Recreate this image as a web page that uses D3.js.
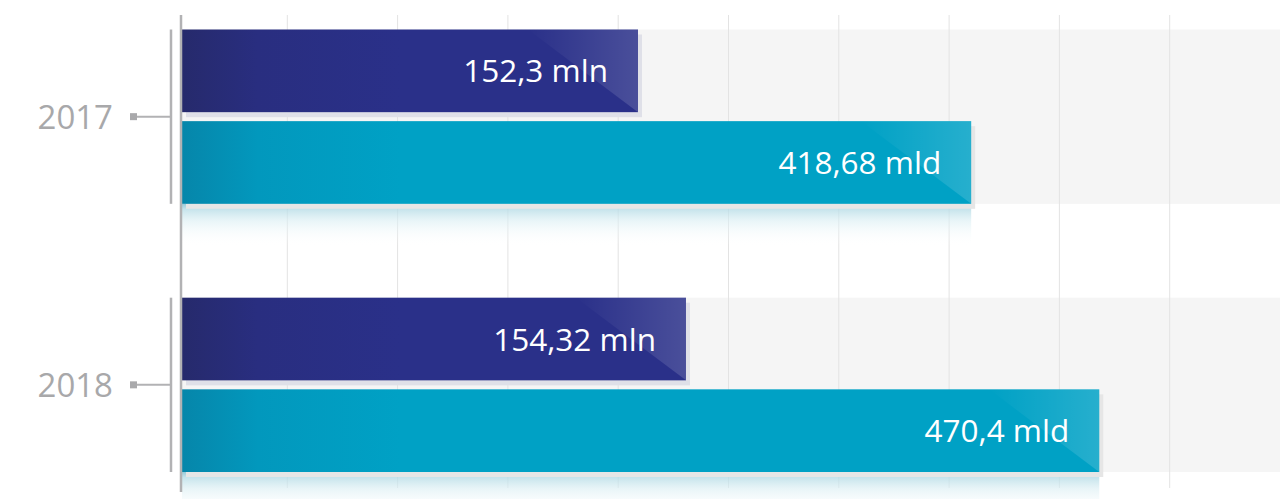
<!DOCTYPE html>
<html>
<head>
<meta charset="utf-8">
<script src="https://cdn.jsdelivr.net/npm/d3@7"></script>
<style>
  html, body { margin: 0; padding: 0; background: #fff; }
  svg { display: block; font-family: "Open Sans", "Noto Sans", sans-serif; }
</style>
</head>
<body>
<script>
// data
var years = ["2017", "2018"];
var series = ["mln", "mld"];
var mlnValues = [152.3, 154.32];
var mldValues = [418.68, 470.4];
var mlnLabels = ["152,3 mln", "154,32 mln"];
var mldLabels = ["418,68 mld", "470,4 mld"];

var width = 1280, height = 499;

var svg = d3.select("body").append("svg")
  .attr("width", width)
  .attr("height", height);

var defs = svg.append("defs");

// scales
var y = d3.scaleBand().domain(years).range([29.5, 472]).paddingInner(0.35);
var ySub = d3.scaleBand().domain(series).range([0, y.bandwidth()]).paddingInner(0.098);

// each series has its own unit, so its own scale
var xMln = d3.scaleLinear().domain([133.1, 179.5]).range([182, 1284]);
var xMld = d3.scaleLinear().domain([100, 545]).range([182, 1284]);
var xGrid = d3.scaleLinear().domain([0, 10]).range([177, 1280]);

// gradients
function leftGrad(id, dark, mid, main) {
  var g = defs.append("linearGradient").attr("id", id)
    .attr("gradientUnits", "userSpaceOnUse")
    .attr("x1", 182).attr("x2", 400).attr("y1", 0).attr("y2", 0);
  g.append("stop").attr("offset", 0).attr("stop-color", dark);
  g.append("stop").attr("offset", 0.35).attr("stop-color", mid);
  g.append("stop").attr("offset", 1).attr("stop-color", main);
}
leftGrad("gMln", "#262a6c", "#292e80", "#2a3089");
leftGrad("gMld", "#0686aa", "#0298bd", "#00a1c5");

var gloss = defs.append("linearGradient").attr("id", "gloss")
  .attr("x1", 0).attr("x2", 1).attr("y1", 0).attr("y2", 0);
gloss.append("stop").attr("offset", 0).attr("stop-color", "#fff").attr("stop-opacity", 0);
gloss.append("stop").attr("offset", 1).attr("stop-color", "#fff").attr("stop-opacity", 0.15);

var refl = defs.append("linearGradient").attr("id", "refl")
  .attr("x1", 0).attr("x2", 0).attr("y1", 0).attr("y2", 1);
refl.append("stop").attr("offset", 0).attr("stop-color", "#8cc3d3").attr("stop-opacity", 0.9);
refl.append("stop").attr("offset", 0.13).attr("stop-color", "#b8dde7").attr("stop-opacity", 0.8);
refl.append("stop").attr("offset", 0.4).attr("stop-color", "#d9eef3").attr("stop-opacity", 0.6);
refl.append("stop").attr("offset", 1).attr("stop-color", "#fff").attr("stop-opacity", 0);

// background bands
svg.append("g").selectAll("rect")
  .data(years)
  .enter().append("rect")
  .attr("x", 182)
  .attr("y", function(d) { return y(d); })
  .attr("width", width - 182)
  .attr("height", y.bandwidth())
  .attr("fill", "#f5f5f5");

// gridlines
svg.append("g").selectAll("line")
  .data(d3.range(1, 10))
  .enter().append("line")
  .attr("x1", function(d) { return xGrid(d); })
  .attr("x2", function(d) { return xGrid(d); })
  .attr("y1", 15)
  .attr("y2", 488)
  .attr("stroke", "#e3e3e3")
  .attr("stroke-width", 1);

// bars
var bars = [];
years.forEach(function(yr, i) {
  bars.push({ year: yr, key: "mln", end: xMln(mlnValues[i]), label: mlnLabels[i], fill: "url(#gMln)" });
  bars.push({ year: yr, key: "mld", end: xMld(mldValues[i]), label: mldLabels[i], fill: "url(#gMld)" });
});

var barG = svg.append("g").selectAll("g")
  .data(bars)
  .enter().append("g")
  .attr("transform", function(d) { return "translate(0," + (y(d.year) + ySub(d.key)) + ")"; });

var h = ySub.bandwidth();

// reflection under the teal bars
barG.filter(function(d) { return d.key == "mld"; })
  .append("rect")
  .attr("x", 182)
  .attr("y", h)
  .attr("width", function(d) { return d.end - 182; })
  .attr("height", 42)
  .attr("fill", "url(#refl)");

// shadow
barG.append("rect")
  .attr("x", 186)
  .attr("y", 5)
  .attr("width", function(d) { return d.end - 182; })
  .attr("height", h)
  .attr("fill", function(d) { return d.key == "mln" ? "#dfe0e8" : "#e6e6e6"; });

barG.append("rect")
  .attr("x", 182)
  .attr("y", 0)
  .attr("width", function(d) { return d.end - 182; })
  .attr("height", h)
  .attr("fill", function(d) { return d.fill; });

// glossy top-right corner
barG.append("polygon")
  .attr("points", function(d) {
    return [[d.end - 110, 0], [d.end, 0], [d.end, h]].join(" ");
  })
  .attr("fill", "url(#gloss)");

barG.append("text")
  .attr("x", function(d) { return d.end - 30; })
  .attr("y", h / 2)
  .attr("dy", "0.37em")
  .attr("text-anchor", "end")
  .attr("fill", "#fff")
  .attr("font-size", 31.5)
  .text(function(d) { return d.label; });

// axis
svg.append("line")
  .attr("x1", 181).attr("x2", 181)
  .attr("y1", 15).attr("y2", 492)
  .attr("stroke", "#b2b2b4")
  .attr("stroke-width", 2.5);

var yAxis = svg.append("g").selectAll("g")
  .data(years)
  .enter().append("g");

yAxis.append("line")
  .attr("x1", 171).attr("x2", 171)
  .attr("y1", function(d) { return y(d); })
  .attr("y2", function(d) { return y(d) + y.bandwidth(); })
  .attr("stroke", "#b2b2b4")
  .attr("stroke-width", 2.5);

yAxis.append("line")
  .attr("x1", 136).attr("x2", 171)
  .attr("y1", function(d) { return y(d) + y.bandwidth() / 2; })
  .attr("y2", function(d) { return y(d) + y.bandwidth() / 2; })
  .attr("stroke", "#b2b2b4")
  .attr("stroke-width", 2);

yAxis.append("rect")
  .attr("x", 130)
  .attr("y", function(d) { return y(d) + y.bandwidth() / 2 - 3.5; })
  .attr("width", 7).attr("height", 7)
  .attr("fill", "#a9a9ab");

yAxis.append("text")
  .attr("x", 113)
  .attr("y", function(d) { return y(d) + y.bandwidth() / 2; })
  .attr("dy", "0.36em")
  .attr("text-anchor", "end")
  .attr("fill", "#a8a8aa")
  .attr("font-size", 33)
  .text(function(d) { return d; });
</script>
</body>
</html>
